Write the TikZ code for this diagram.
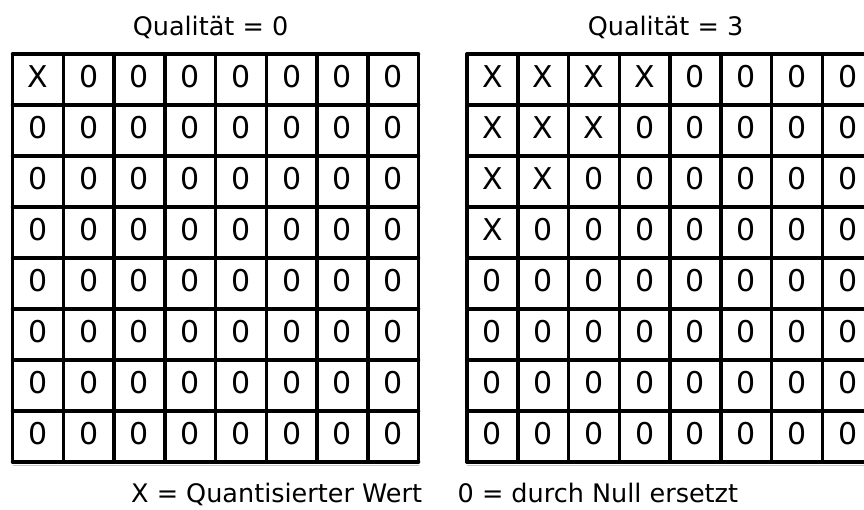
\documentclass[tikz,border=0pt]{standalone}
\usepackage{fontspec}
\setmainfont{DejaVu Sans}
\begin{document}
\begin{tikzpicture}[x=1pt,y=-1pt,
  gridline/.style={line width=3.5pt, line cap=round},
  shadowline/.style={line width=1pt, black!22},
  cell/.style={font=\fontsize{30}{36}\selectfont, inner sep=0pt},
  caption/.style={font=\fontsize{25.5}{30}\selectfont, inner sep=0pt}]
\useasboundingbox (0,0) rectangle (864,509);
\def\pw{50.75}
\def\ph{51}
\def\gtop{54}

% left grid: quality 0, right grid: quality 3
\foreach \g/\ox/\q in {L/12.5/0, R/467/3} {
  \draw[shadowline] (\ox,\gtop+8*\ph+3.5) -- (\ox+8*\pw,\gtop+8*\ph+3.5);
  \foreach \i in {0,...,8} {
    \draw[gridline] (\ox+\i*\pw,\gtop) -- (\ox+\i*\pw,\gtop+8*\ph);
    \draw[gridline] (\ox,\gtop+\i*\ph) -- (\ox+8*\pw,\gtop+\i*\ph);
  }
  \foreach \r in {0,...,7} {
    \foreach \c in {0,...,7} {
      \pgfmathtruncatemacro\isx{(\c+\r)<=\q ? 1 : 0}
      \ifnum\isx=1 \def\val{X}\else\def\val{0}\fi
      \node[cell] (\g-\r-\c) at (\ox+\c*\pw+0.5*\pw, \gtop+\r*\ph+0.5*\ph-3) {\val};
    }
  }
}

\node[caption, anchor=base] (titleL) at (210.5,35.5) {Qualität = 0};
\node[caption, anchor=base] (titleR) at (665.5,35.5) {Qualität = 3};
\node[caption, anchor=base west] (keyX) at (131,502) {X = Quantisierter Wert};
\node[caption, anchor=base west] (keyZ) at (457.5,502) {0 = durch Null ersetzt};
\end{tikzpicture}
\end{document}
